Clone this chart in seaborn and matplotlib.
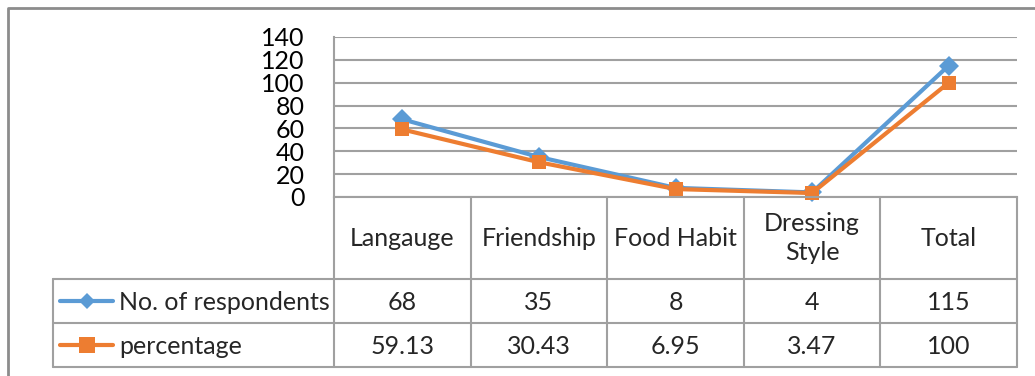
import numpy as np
import pandas as pd
import seaborn as sns
import matplotlib.pyplot as plt

# Data
categories = ["Langauge", "Friendship", "Food Habit", "Dressing\nStyle", "Total"]
respondents = [68, 35, 8, 4, 115]
percentage = [59.13, 30.43, 6.95, 3.47, 100]
respondents_txt = ["68", "35", "8", "4", "115"]
percentage_txt = ["59.13", "30.43", "6.95", "3.47", "100"]
series_names = ["No. of respondents", "percentage"]
y_ticks = [0, 20, 40, 60, 80, 100, 120, 140]

BLUE = "#5B9BD5"
ORANGE = "#ED7D31"
GRID = "#a0a0a0"

sns.set_theme(style="white")
plt.rcParams["font.family"] = ["Lato", "DejaVu Sans"]

W, H = 1035, 376
fig = plt.figure(figsize=(W / 100, H / 100), dpi=100)

# pixel layout
px_left, px_right = 334, 1017
px_top, px_zero = 37, 197
px_hdr, px_r1, px_r2 = 279, 323, 367
px_leg = 53

# background axes for the outer frame
bg = fig.add_axes([0, 0, 1, 1], zorder=-5)
bg.set_xlim(0, W)
bg.set_ylim(H, 0)
bg.axis("off")
bg.plot([7.5, 7.5, W], [H, 7.5, 7.5], color="#8c8c8c", lw=2)

ax = fig.add_axes([px_left / W, 1 - px_zero / H,
                   (px_right - px_left) / W, (px_zero - px_top) / H])

df = pd.DataFrame({
    "pos": list(range(len(categories))) * 2,
    "value": respondents + percentage,
    "series": [series_names[0]] * len(categories) + [series_names[1]] * len(categories),
})

sns.lineplot(data=df, x="pos", y="value", hue="series", style="series",
             palette={series_names[0]: BLUE, series_names[1]: ORANGE},
             markers={series_names[0]: "D", series_names[1]: "s"},
             dashes=False, lw=3, markersize=10, markeredgewidth=0,
             legend=False, ax=ax, clip_on=False)

ax.set_xlim(-0.5, len(categories) - 0.5)
ax.set_ylim(0, 140)
ax.set_yticks(y_ticks)
ax.set_xticks([])
ax.set_xlabel("")
ax.set_ylabel("")
ax.yaxis.grid(True, color=GRID, lw=1.5)
ax.set_axisbelow(True)
for s in ["top", "right"]:
    ax.spines[s].set_visible(False)
for s in ["left", "bottom"]:
    ax.spines[s].set_color(GRID)
    ax.spines[s].set_linewidth(1.5)
ax.tick_params(axis="y", length=0, pad=21, labelsize=18, labelcolor="black")
ax.patch.set_alpha(0)

# table axes, x shared with the chart, y in pixel units
tax = fig.add_axes([px_left / W, 1 - px_r2 / H,
                    (px_right - px_left) / W, (px_r2 - px_zero) / H], sharex=ax)
tax.set_ylim(px_r2, px_zero)
tax.axis("off")

col_w = (px_right - px_left) / len(categories)


def px2x(px):
    return -0.5 + (px - px_left) / col_w


xl = px2x(px_leg)
xr = len(categories) - 0.5
lk = dict(color=GRID, lw=1.5, clip_on=False)
for y in [px_hdr, px_r1, px_r2]:
    tax.plot([xl, xr], [y, y], **lk)
for i in range(len(categories) + 1):
    tax.plot([i - 0.5, i - 0.5], [px_zero, px_r2], **lk)
tax.plot([xl, xl], [px_hdr, px_r2], **lk)

fs = 18
for i, c in enumerate(categories):
    tax.text(i, (px_zero + px_hdr) / 2, c, ha="center", va="center", fontsize=fs,
             linespacing=1.35)
    tax.text(i, (px_hdr + px_r1) / 2 + 1, respondents_txt[i], ha="center", va="center", fontsize=fs)
    tax.text(i, (px_r1 + px_r2) / 2 + 1, percentage_txt[i], ha="center", va="center", fontsize=fs)

# legend keys inside the table
for y, col, mk, ms, name in [((px_hdr + px_r1) / 2, BLUE, "D", 8, series_names[0]),
                             ((px_r1 + px_r2) / 2, ORANGE, "s", 11, series_names[1])]:
    tax.plot([px2x(60), px2x(113)], [y, y], color=col, lw=3, clip_on=False)
    tax.plot([px2x(87)], [y], marker=mk, color=col, ms=ms, mew=0, clip_on=False)
    tax.text(px2x(119), y + 1, name, ha="left", va="center", fontsize=fs)

fig.savefig("out.png", dpi=100)
